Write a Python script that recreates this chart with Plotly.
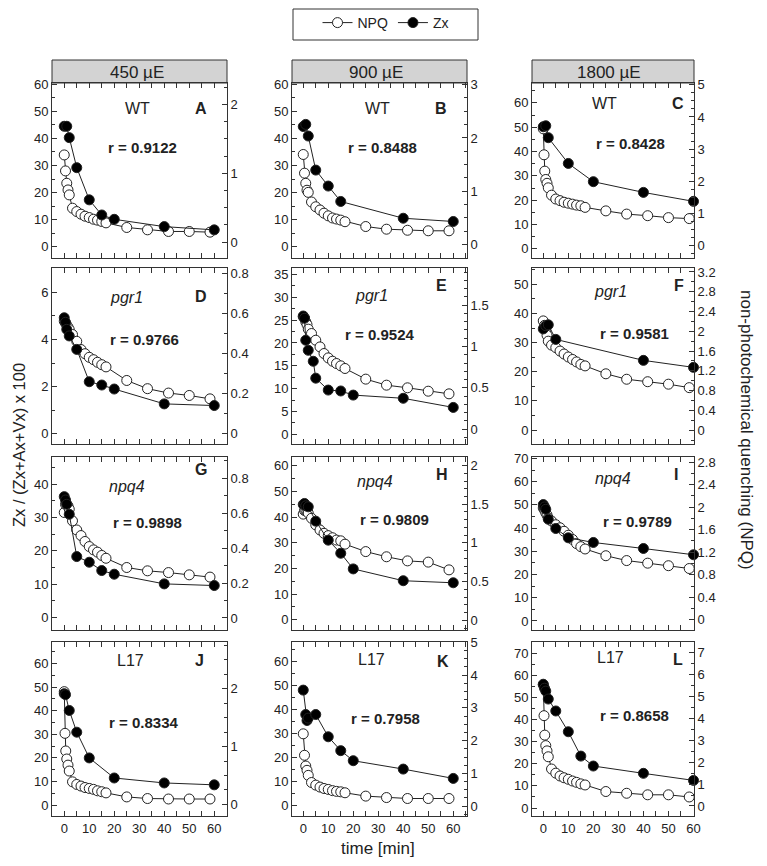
import plotly.graph_objects as go

W, H = 767, 866          # target window
OFF = 8                  # page body margin
FW, FH = W - 2 * OFF, H - 2 * OFF
FONT = "Liberation Sans, Arial, sans-serif"

# ---------------- data ----------------
T_NPQ19 = [0, 0.5, 1, 1.5, 2, 3.3, 5, 6.7, 8.3, 10, 11.7, 13.3, 15, 16.7, 25, 33.3, 41.7, 50, 58.3]
T_NPQ20 = [0, 0.3, 0.6, 1, 1.5, 2, 3.3, 5, 6.7, 8.3, 10, 11.7, 13.3, 15, 16.7, 25, 33.3, 41.7, 50, 58.3]

A_ZX_T = [0, 1, 2, 5, 10, 15, 20, 40, 60]
A_ZX = [44.5, 44.5, 40.3, 29.2, 17.3, 11.7, 10.1, 7.4, 6.2]
A_NPQ = [1.266, 1.034, 0.855, 0.758, 0.686, 0.493, 0.444, 0.406, 0.377, 0.357, 0.333, 0.319, 0.300, 0.280, 0.213, 0.179, 0.155, 0.155, 0.145]

B_ZX_T = [0, 1, 2, 5, 10, 15, 40, 60]
B_ZX = [44.4, 45.2, 40.9, 28.3, 22.4, 16.7, 10.5, 9.3]
B_NPQ = [1.69, 1.34, 1.15, 1.02, 0.98, 0.80, 0.71, 0.65, 0.59, 0.54, 0.50, 0.48, 0.46, 0.43, 0.34, 0.29, 0.27, 0.26, 0.26]

C_ZX_T = [0, 1, 2, 10, 20, 40, 60]
C_ZX = [50.2, 50.6, 45.7, 35.1, 27.6, 23.2, 19.5]
C_NPQ = [3.63, 2.82, 2.31, 2.05, 1.93, 1.79, 1.56, 1.44, 1.39, 1.34, 1.31, 1.28, 1.25, 1.23, 1.18, 1.07, 0.97, 0.92, 0.86, 0.83]

D_ZX_T = [0, 0.5, 1, 2, 5, 10, 15, 20, 40, 60]
D_ZX = [4.92, 4.73, 4.43, 4.15, 3.58, 2.21, 2.07, 1.90, 1.27, 1.20]
D_NPQ = [0.56, 0.55, 0.54, 0.53, 0.518, 0.493, 0.459, 0.418, 0.397, 0.379, 0.367, 0.354, 0.342, 0.331, 0.263, 0.222, 0.200, 0.188, 0.171]

E_ZX_T = [0, 0.5, 1, 2, 4, 5, 10, 15, 20, 40, 60]
E_ZX = [25.9, 25.4, 20.6, 18.4, 16.0, 12.3, 9.7, 9.5, 8.6, 7.9, 5.9]
E_NPQ = [1.36, 1.346, 1.30, 1.266, 1.21, 1.157, 1.076, 0.995, 0.915, 0.862, 0.822, 0.794, 0.766, 0.734, 0.605, 0.532, 0.500, 0.459, 0.427]

F_ZX_T = [0, 1, 2, 5, 40, 60]
F_ZX = [34.7, 35.8, 36.1, 31.1, 23.9, 21.5]
F_NPQ = [2.21, 2.12, 2.02, 1.92, 1.80, 1.72, 1.67, 1.60, 1.54, 1.48, 1.43, 1.38, 1.33, 1.30, 1.14, 1.03, 0.98, 0.93, 0.86]

G_ZX_T = [0, 0.5, 1, 2, 5, 10, 15, 20, 40, 60]
G_ZX = [36.3, 35.3, 34.0, 31.0, 18.3, 16.6, 14.1, 13.0, 10.1, 9.6]
G_NPQ = [0.604, 0.651, 0.651, 0.642, 0.623, 0.556, 0.504, 0.472, 0.438, 0.409, 0.390, 0.377, 0.358, 0.342, 0.289, 0.270, 0.260, 0.247, 0.234]

H_ZX_T = [0, 0.5, 1, 2, 5, 10, 15, 20, 40, 60]
H_ZX = [44.9, 45.3, 44.4, 44.0, 38.4, 31.0, 25.9, 19.8, 15.2, 14.4]
H_NPQ = [1.372, 1.419, 1.419, 1.406, 1.386, 1.319, 1.233, 1.167, 1.124, 1.094, 1.067, 1.037, 1.027, 0.984, 0.888, 0.821, 0.768, 0.752, 0.652]

I_ZX_T = [0, 0.5, 1, 2, 5, 10, 20, 40, 60]
I_ZX = [50.1, 49.1, 48.1, 43.8, 39.8, 35.8, 33.8, 31.2, 28.5]
I_NPQ = [1.985, 1.948, 1.902, 1.861, 1.807, 1.754, 1.688, 1.634, 1.572, 1.502, 1.427, 1.353, 1.299, 1.258, 1.138, 1.052, 1.006, 0.961, 0.911]

J_ZX_T = [0, 0.5, 2, 5, 10, 20, 40, 60]
J_ZX = [47.2, 46.8, 40.1, 30.9, 20.0, 11.5, 9.4, 8.6]
J_NPQ = [1.951, 1.230, 0.925, 0.786, 0.680, 0.578, 0.391, 0.346, 0.318, 0.293, 0.277, 0.261, 0.236, 0.220, 0.200, 0.130, 0.102, 0.094, 0.094, 0.094]

K_ZX_T = [0, 1, 1.5, 2, 5, 10, 15, 20, 40, 60]
K_ZX = [48.2, 38.0, 35.5, 36.5, 38.0, 28.7, 22.9, 18.7, 15.2, 11.3]
K_NPQ = [2.208, 1.553, 1.225, 1.094, 0.940, 0.722, 0.642, 0.583, 0.540, 0.511, 0.474, 0.452, 0.438, 0.409, 0.307, 0.263, 0.234, 0.234, 0.234]

L_ZX_T = [0, 0.5, 1, 2, 5, 10, 15, 20, 40, 60]
L_ZX = [56.0, 54.2, 52.9, 49.3, 43.9, 34.5, 23.5, 19.0, 15.7, 12.5]
L_NPQ = [5.54, 4.13, 3.24, 2.76, 2.52, 2.25, 1.69, 1.50, 1.37, 1.29, 1.22, 1.14, 1.08, 1.01, 0.96, 0.66, 0.58, 0.51, 0.51, 0.41]

LIGHTS = ["450 µE", "900 µE", "1800 µE"]
GENOTYPES = ["WT", "<i>pgr1</i>", "<i>npq4</i>", "L17"]
LETTERS = ["A", "B", "C", "D", "E", "F", "G", "H", "I", "J", "K", "L"]
R_VALUES = ["0.9122", "0.8488", "0.8428", "0.9766", "0.9524", "0.9581",
            "0.9898", "0.9809", "0.9789", "0.8334", "0.7958", "0.8658"]
X_TICKS = [0, 10, 20, 30, 40, 50, 60]

PANEL_DATA = [
    (A_ZX_T, A_ZX, T_NPQ19, A_NPQ), (B_ZX_T, B_ZX, T_NPQ19, B_NPQ), (C_ZX_T, C_ZX, T_NPQ20, C_NPQ),
    (D_ZX_T, D_ZX, T_NPQ19, D_NPQ), (E_ZX_T, E_ZX, T_NPQ19, E_NPQ), (F_ZX_T, F_ZX, T_NPQ19, F_NPQ),
    (G_ZX_T, G_ZX, T_NPQ19, G_NPQ), (H_ZX_T, H_ZX, T_NPQ19, H_NPQ), (I_ZX_T, I_ZX, T_NPQ19, I_NPQ),
    (J_ZX_T, J_ZX, T_NPQ20, J_NPQ), (K_ZX_T, K_ZX, T_NPQ19, K_NPQ), (L_ZX_T, L_ZX, T_NPQ20, L_NPQ),
]

# axis settings: (zx range, zx dtick, zx minor, npq range, npq dtick, npq minor)
AXES = [
    ([-4.2, 60.5], 10, 5, [-0.23, 2.31], 1, 0.25),
    ([-4.2, 60.5], 10, 5, [-0.25, 3.03], 1, 0.25),
    ([-3.8, 68.2], 10, 5, [-0.40, 5.06], 1, 0.25),
    ([-0.43, 7.03], 2, 1, [-0.055, 0.826], 0.2, 0.1),
    ([-2.1, 36.4], 5, 2.5, [-0.18, 1.95], 0.5, 0.1),
    ([-4.8, 55.6], 10, 5, [-0.28, 3.28], 0.4, 0.2),
    ([-3.75, 48.2], 10, 5, [-0.069, 0.922], 0.2, 0.1),
    ([-4.0, 63.4], 10, 5, [-0.125, 2.11], 0.5, 0.1),
    ([-3.9, 70.6], 10, 5, [-0.18, 2.89], 0.4, 0.2),
    ([-4.6, 69.1], 10, 5, [-0.20, 2.81], 1, 0.25),
    ([-4.4, 68.3], 10, 5, [-0.30, 5.01], 1, 0.25),
    ([-3.6, 75.1], 10, 5, [-0.46, 7.50], 1, 0.5),
]

# ---------------- layout geometry (target-window pixels) ----------------
COLS = [(52, 227), (292, 467), (532, 694)]
ROWS = [(83, 258), (268, 444), (457, 630), (642, 816)]
XR = [[-4.9, 65.1], [-4.5, 65.5], [-4.5, 60.2]]
GENO_POS = [(137, 108), (377, 108), (604, 104), (127, 297), (371, 295), (610, 291),
            (127, 486), (375, 481), (613, 478), (130, 660), (371, 659), (610, 657)]
LETTER_POS = [(201, 108), (441, 108), (678, 104), (201, 296), (441, 285), (679, 285),
              (201, 469), (442, 474), (676, 474), (199, 660), (443, 661), (678, 659)]
R_POS = [(142, 148), (382, 147), (630, 143), (144, 339), (379, 334), (634, 333),
         (147, 522), (395, 520), (637, 521), (143, 722), (385, 718), (634, 715)]


def fx(p):
    return (p - OFF) / FW


def fy(p):
    return 1 - (p - OFF) / FH


fig = go.Figure()
layout = dict(
    width=FW, height=FH, margin=dict(l=0, r=0, t=0, b=0, autoexpand=False),
    paper_bgcolor="white", plot_bgcolor="white",
    font=dict(family=FONT, size=13, color="#222"),
    showlegend=True,
    legend=dict(orientation="h", x=fx(386), xanchor="center", y=fy(23), yanchor="middle",
                borderwidth=0, bgcolor="rgba(0,0,0,0)", font=dict(size=14, family=FONT, color="#222"),
                itemwidth=30, tracegroupgap=0),
)

annotations = []
shapes = []
tickfont = dict(family=FONT, size=13, color="#222")


def txt(text, x, y, size, **kw):
    d = dict(text=text, x=fx(x), y=fy(y), xref="paper", yref="paper", xanchor="center",
             yanchor="middle", showarrow=False, font=dict(size=size, family=FONT, color="#222"))
    d.update(kw)
    return d


for k in range(12):
    r, c = divmod(k, 3)
    n = k + 1
    zx_t, zx, npq_t, npq = PANEL_DATA[k]
    zr, zd, zm, nr, nd, nm = AXES[k]
    x0, x1 = COLS[c]
    y0, y1 = ROWS[r]

    layout[f"xaxis{n}"] = dict(
        domain=[fx(x0), fx(x1)], range=XR[c], anchor=f"y{n}",
        showline=True, linecolor="#333", linewidth=1, mirror="allticks",
        ticks="inside", ticklen=5, tickcolor="#333", tickvals=X_TICKS,
        minor=dict(dtick=5, tick0=0, ticks="inside", ticklen=3, tickcolor="#333"),
        showticklabels=(r == 3), tickfont=tickfont, showgrid=False, zeroline=False,
    )
    layout[f"yaxis{n}"] = dict(
        domain=[fy(y1), fy(y0)], range=nr, anchor=f"x{n}", side="right",
        showline=True, linecolor="#333", linewidth=1,
        ticks="inside", ticklen=5, tickcolor="#333", dtick=nd, tick0=0,
        minor=dict(dtick=nm, tick0=0, ticks="inside", ticklen=3, tickcolor="#333"),
        tickfont=tickfont, showgrid=False, zeroline=False,
    )
    layout[f"yaxis{n + 12}"] = dict(
        range=zr, anchor=f"x{n}", overlaying=f"y{n}", side="left",
        showline=True, linecolor="#333", linewidth=1,
        ticks="inside", ticklen=5, tickcolor="#333", dtick=zd, tick0=0,
        minor=dict(dtick=zm, tick0=0, ticks="inside", ticklen=3, tickcolor="#333"),
        tickfont=tickfont, showgrid=False, zeroline=False,
    )

    fig.add_trace(go.Scatter(
        x=npq_t, y=npq, xaxis=f"x{n}", yaxis=f"y{n}", mode="lines+markers", cliponaxis=False,
        name="NPQ", legendgroup="npq", showlegend=(k == 0), legendrank=1,
        line=dict(color="#222", width=1),
        marker=dict(symbol="circle", size=10, color="white", line=dict(color="#222", width=1)),
    ))
    fig.add_trace(go.Scatter(
        x=zx_t, y=zx, xaxis=f"x{n}", yaxis=f"y{n + 12}", mode="lines+markers", cliponaxis=False,
        name="Zx", legendgroup="zx", showlegend=(k == 0), legendrank=2,
        line=dict(color="#222", width=1),
        marker=dict(symbol="circle", size=10, color="black", line=dict(color="#222", width=1)),
    ))

    annotations.append(txt(GENOTYPES[r], *GENO_POS[k], 16))
    annotations.append(txt(f"<b>{LETTERS[k]}</b>", *LETTER_POS[k], 16))
    annotations.append(txt(f"<b>r = {R_VALUES[k]}</b>", *R_POS[k], 15))

# column headers
HEAD_X = [137, 376, 609]
for c in range(3):
    x0, x1 = COLS[c]
    shapes.append(dict(type="rect", xref="paper", yref="paper", x0=fx(x0), x1=fx(x1), y0=fy(83), y1=fy(60),
                       fillcolor="#d3d3d3", line=dict(color="#333", width=1), layer="below"))
    annotations.append(txt(LIGHTS[c], HEAD_X[c], 72, 17))

# legend frame
shapes.append(dict(type="rect", xref="paper", yref="paper", x0=fx(293), x1=fx(478), y0=fy(40), y1=fy(9),
                   fillcolor="rgba(0,0,0,0)", line=dict(color="#333", width=1)))

# axis titles
annotations.append(txt("Zx / (Zx+Ax+Vx) x 100", 19, 445, 16.5, textangle=-90))
annotations.append(txt("non-photochemical quenching (NPQ)", 747, 430, 17, textangle=90))
annotations.append(txt("time [min]", 378, 848, 17))

layout["annotations"] = annotations
layout["shapes"] = shapes
fig.update_layout(**layout)
fig.write_html("out.html")
